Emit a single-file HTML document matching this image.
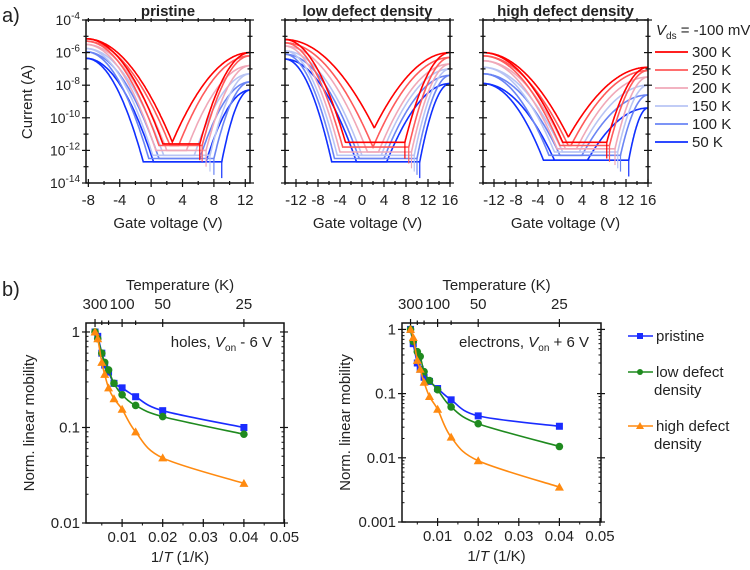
<!DOCTYPE html>
<html><head><meta charset="utf-8"><style>
body{margin:0;background:#fff}
svg{display:block;font-family:"Liberation Sans",sans-serif}
</style></head><body>
<svg id="fig" width="750" height="570" viewBox="0 0 750 570" xmlns="http://www.w3.org/2000/svg"></svg>
<script>
// ---------- data: transfer curves (panel a) ----------
const temps = ["300 K","250 K","200 K","150 K","100 K","50 K"];
const tempColors = ["#ff0000","#ff5a5a","#f0a8b8","#b8c4f4","#6a84f4","#1030ff"];
const panelTitles = ["pristine","low defect density","high defect density"];
const vRanges = [[-8.3,12.6],[-14,16],[-14,16]];
const vTicks = [[-8,-4,0,4,8,12],[-12,-8,-4,0,4,8,12,16],[-12,-8,-4,0,4,8,12,16]];
const holeOn = [[-5.15,-5.3,-5.5,-5.75,-5.95,-6.35],[-5.2,-5.4,-5.6,-5.9,-6.1,-6.4],[-6.0,-6.2,-6.5,-6.9,-7.3,-7.9]];
const holeVthFwd = [[1.5,1.0,0.6,0.2,-0.3,-1.0],[-3,-3.5,-4,-4.5,-5,-5.5],[0.5,0,-0.5,-1,-2,-3]];
const holeVthBwd = [[2.8,2.4,2.0,1.6,1.0,0.3],[3.5,2,1,0,-0.5,-1],[2,1.5,1,0.5,0,-1]];
const floorLog = [[-11.6,-11.7,-12.0,-12.3,-12.5,-12.7],[-11.5,-11.8,-12.1,-12.3,-12.5,-12.7],[-11.5,-11.7,-11.9,-12.1,-12.3,-12.6]];
const elVthFwd = [[6.2,6.5,7,7.5,8,9],[7.8,8.5,9,9.5,10,10.5],[8.5,9,10,10.5,11,12.5]];
const elVthBwd = [[2.6,3.5,4.5,5.5,6.2,7],[1,2,3,3.5,4,4.5],[1,2,3,3.5,4,5]];
const elOn = [[-6.0,-6.2,-6.8,-7.3,-7.8,-8.3],[-6.0,-6.3,-6.7,-7.0,-7.4,-7.9],[-6.9,-7.1,-7.5,-8.0,-8.6,-9.4]];

// ---------- data: mobility (panel b) ----------
const tempK = [300,250,200,175,150,125,100,75,50,25];
const holesPristine = [1,0.9,0.6,0.45,0.38,0.29,0.26,0.21,0.15,0.10];
const holesLow = [1,0.85,0.6,0.48,0.4,0.29,0.22,0.17,0.13,0.085];
const holesHigh = [1,0.85,0.48,0.36,0.26,0.2,0.155,0.09,0.048,0.026];
const elecPristine = [1,0.6,0.3,0.24,0.18,0.155,0.12,0.08,0.045,0.031];
const elecLow = [1,0.65,0.45,0.38,0.22,0.16,0.115,0.062,0.034,0.015];
const elecHigh = [1,0.75,0.33,0.24,0.15,0.09,0.057,0.021,0.009,0.0035];
const xTicksB = [0.01,0.02,0.03,0.04,0.05];
const topTicksB = [300,100,50,25];

const NS="http://www.w3.org/2000/svg";
const svg=document.getElementById('fig');
function el(tag,attrs,parent){const e=document.createElementNS(NS,tag);for(const k in attrs)e.setAttribute(k,attrs[k]);(parent||svg).appendChild(e);return e;}
function txt(x,y,s,size,anchor,parent,extra){const t=el('text',Object.assign({x:x,y:y,'font-size':size,'text-anchor':anchor||'middle',fill:'#222'},extra||{}),parent);t.textContent=s;return t;}

let t=txt(2,22,'a)',20,'start');


t=txt(2,296,'b)',20,'start');



// ---------- panel a ----------
const frames=[[86,250],[285,450],[483,648]];
const yTop=20,yBot=183;
function yA(l){return yTop+(-4-l)/10*(yBot-yTop);}
function sweep(p,i,fwd){
  const [v0,v1]=vRanges[p];const hv=fwd?holeVthFwd[p][i]:holeVthBwd[p][i];const ev=fwd?elVthFwd[p][i]:elVthBwd[p][i];
  const on=holeOn[p][i],fl=floorLog[p][i],eo=elOn[p][i];
  const pts=[];
  for(let v=v0;v<=v1+1e-9;v+=0.1){
    let l=fl;
    if(v<hv){const r=(v-v0)/(hv-v0);l=Math.max(l,fl+(on-fl)*(1-Math.pow(r,2)));}
    if(v>ev){const r=(v1-v)/(v1-ev);l=Math.max(l,fl+(eo-fl)*(1-Math.pow(r,2)));}
    pts.push([v,l]);
  }
  return pts;
}
for(let p=0;p<3;p++){
  const [L,R]=frames[p];const [v0,v1]=vRanges[p];
  const xv=v=>L+(v-v0)/(v1-v0)*(R-L);
  const g=el('g',{});
  
  
  const cp=el('clipPath',{id:'cp'+p},g);el('rect',{x:L,y:yTop,width:R-L,height:yBot-yTop},cp);
  const cg=el('g',{'clip-path':'url(#cp'+p+')'},g);
  for(let i=5;i>=0;i--){
    for(const fwd of [true,false]){
      const d=sweep(p,i,fwd).map((q,k)=>(k?'L':'M')+xv(q[0]).toFixed(1)+','+yA(q[1]).toFixed(1)).join('');
      const path=el('path',{d:d,fill:'none',stroke:tempColors[i],'stroke-width':1.6},cg);
      
      
    }
    const fv=elVthFwd[p][i];
    const sp=el('path',{d:'M'+xv(fv)+','+yA(floorLog[p][i])+'L'+xv(fv)+','+yA(floorLog[p][i]-1.0),stroke:tempColors[i],'stroke-width':1.2},cg);
    
    
  }
  el('rect',{x:L,y:yTop,width:R-L,height:yBot-yTop,fill:'none',stroke:'#111','stroke-width':1.5},g);
  for(let d=-4;d>=-14;d--){
    const y=yA(d);const len=(d%2===0)?4:2.5;
    el('line',{x1:L-len,y1:y,x2:L+len,y2:y,stroke:'#111','stroke-width':1.2},g);
    el('line',{x1:R-len,y1:y,x2:R+len,y2:y,stroke:'#111','stroke-width':1.2},g);
    if(p===0&&d%2===0){const tt=txt(L-6,y+5,'10',14,'end',g);const s=el('tspan',{dy:-6,'font-size':10},tt);s.textContent=String(d);}
  }
  for(let v=Math.ceil(v0);v<=v1;v++){
    const x=xv(v);const maj=vTicks[p].includes(v);
    if(v%2!==0&&!maj)continue;
    el('line',{x1:x,y1:yBot-(maj?4:2),x2:x,y2:yBot+(maj?4:2),stroke:'#111','stroke-width':1.2},g);
    el('line',{x1:x,y1:yTop-2,x2:x,y2:yTop+2,stroke:'#111','stroke-width':1.2},g);
  }
  vTicks[p].forEach(v=>txt(xv(v),205,String(v),15,'middle',g));
  const at=txt((L+R)/2,228,'Gate voltage (V)',15,'middle',g);
  
  
  const tl=txt((L+R)/2,16,panelTitles[p],15,'middle',g,{'font-weight':'bold'});
  
  
}
t=txt(32,102,'Current (A)',15,'middle',null,{transform:'rotate(-90 32 102)'});


const lg=el('g',{});


const vt=txt(656,35,'',15,'start',lg);
let s=el('tspan',{'font-style':'italic'},vt);s.textContent='V';
s=el('tspan',{'font-size':10,dy:4},vt);s.textContent='ds';
s=el('tspan',{dy:-4},vt);s.textContent=' = -100 mV';
temps.forEach((tn,i)=>{
  const y=52+i*18;
  const ln=el('line',{x1:655,y1:y,x2:688,y2:y,stroke:tempColors[i],'stroke-width':1.8},lg);
  
  
  txt(692,y+5,tn,15,'start',lg);
});

// ---------- panel b ----------
const seriesColors=["#1a2cff","#1f8a1f","#ff8a10"];
const seriesNames=["pristine","low-defect","high-defect"];
function mobPanel(L,R,top,bot,logTop,logBot,data,yLabels,annot,sign){
  const g=el('g',{});
  
  
  const x0=L-(L===86?4.5:5);const sc=4060;
  const xv=v=>x0+v*sc;
  const yv=m=>top+(logTop-Math.log10(m))/(logTop-logBot)*(bot-top);
  el('rect',{x:L,y:top,width:R-L,height:bot-top,fill:'none',stroke:'#111','stroke-width':1.5},g);
  for(let d=0;d>=logBot;d--){
    const y=yv(Math.pow(10,d));
    el('line',{x1:L-4,y1:y,x2:L+4,y2:y,stroke:'#111','stroke-width':1.2},g);
    el('line',{x1:R-4,y1:y,x2:R+4,y2:y,stroke:'#111','stroke-width':1.2},g);
    for(let k=2;k<10;k++){const ym=yv(k*Math.pow(10,d-1));if(ym<=bot&&ym>=top){el('line',{x1:L,y1:ym,x2:L+2.5,y2:ym,stroke:'#111'},g);el('line',{x1:R-2.5,y1:ym,x2:R,y2:ym,stroke:'#111'},g);}}
  }
  yLabels.forEach((lab,i)=>txt(L-6,yv(Math.pow(10,-i))+5,lab,15,'end',g));
  xTicksB.forEach(v=>{const x=xv(v);el('line',{x1:x,y1:bot-4,x2:x,y2:bot+4,stroke:'#111','stroke-width':1.2},g);txt(x,bot+19,String(v),15,'middle',g);});
  [0.005,0.015,0.025,0.035,0.045].forEach(v=>{const x=xv(v);el('line',{x1:x,y1:bot,x2:x,y2:bot+2.5,stroke:'#111'},g);});
  [300,200,150,100,75,50,25].forEach(T=>{const x=xv(1/T);const maj=topTicksB.includes(T);el('line',{x1:x,y1:top-(maj?4:2.5),x2:x,y2:top+(maj?4:2),stroke:'#111','stroke-width':1.2},g);});
  topTicksB.forEach(T=>{let x=xv(1/T);txt(x,top-14,String(T),15,'middle',g);});
  txt((L+R)/2-5,top-33,'Temperature (K)',15,'middle',g);
  const xt=txt((L+R)/2-5,bot+39,'1/',15,'middle',g);
  let q=el('tspan',{'font-style':'italic'},xt);q.textContent='T';q=el('tspan',{},xt);q.textContent=' (1/K)';
  const an=txt(R-12,top+24,annot+', ',15,'end',g);
  q=el('tspan',{'font-style':'italic'},an);q.textContent='V';
  q=el('tspan',{'font-size':10,dy:4},an);q.textContent='on';
  q=el('tspan',{dy:-4},an);q.textContent=' '+sign+' 6 V';
  const yt=L-52;const ty=txt(yt,(top+bot)/2,'Norm. linear mobility',15,'middle',g,{transform:'rotate(-90 '+yt+' '+(top+bot)/2+')'});
  
  
  data.forEach((ser,si)=>{
    const pts=ser.map((m,k)=>[xv(1/tempK[k]),yv(m)]);
    let d='M'+pts[0][0]+','+pts[0][1];
    for(let k=0;k<pts.length-1;k++){
      const p0=pts[Math.max(0,k-1)],p1=pts[k],p2=pts[k+1],p3=pts[Math.min(pts.length-1,k+2)];
      d+='C'+(p1[0]+(p2[0]-p0[0])/6)+','+(p1[1]+(p2[1]-p0[1])/6)+' '+(p2[0]-(p3[0]-p1[0])/6)+','+(p2[1]-(p3[1]-p1[1])/6)+' '+p2[0]+','+p2[1];
    }
    const ln=el('path',{d:d,fill:'none',stroke:seriesColors[si],'stroke-width':1.6},g);
    
    
    pts.forEach(([x,y])=>{
      let mk;
      if(si===0)mk=el('rect',{x:x-3.5,y:y-3.5,width:7,height:7,fill:seriesColors[si]},g);
      else if(si===1)mk=el('circle',{cx:x,cy:y,r:3.8,fill:seriesColors[si]},g);
      else mk=el('path',{d:'M'+x+','+(y-4.5)+'L'+(x+4.5)+','+(y+3.5)+'L'+(x-4.5)+','+(y+3.5)+'Z',fill:seriesColors[si]},g);
      
      
    });
  });
}
mobPanel(86,284,323,523,0.094,-2,[holesPristine,holesLow,holesHigh],['1','0.1','0.01'],'holes','-');
mobPanel(402,601,323,522,0.1,-3,[elecPristine,elecLow,elecHigh],['1','0.1','0.01','0.001'],'electrons','+');

const lb=el('g',{});


[[336,['pristine']],[372,['low defect','density']],[426,['high defect','density']]].forEach(([y,lines],si)=>{
  el('line',{x1:628,y1:y,x2:653,y2:y,stroke:seriesColors[si],'stroke-width':1.6},lb);
  if(si===0)el('rect',{x:637,y:y-3,width:6,height:6,fill:seriesColors[si]},lb);
  else if(si===1)el('circle',{cx:640,cy:y,r:3,fill:seriesColors[si]},lb);
  else el('path',{d:'M640,'+(y-4)+'L644,'+(y+3)+'L636,'+(y+3)+'Z',fill:seriesColors[si]},lb);
  lines.forEach((ln,k)=>txt(k?654:656,y+5+k*18,ln,15,'start',lb));
});
</script>
</body></html>
